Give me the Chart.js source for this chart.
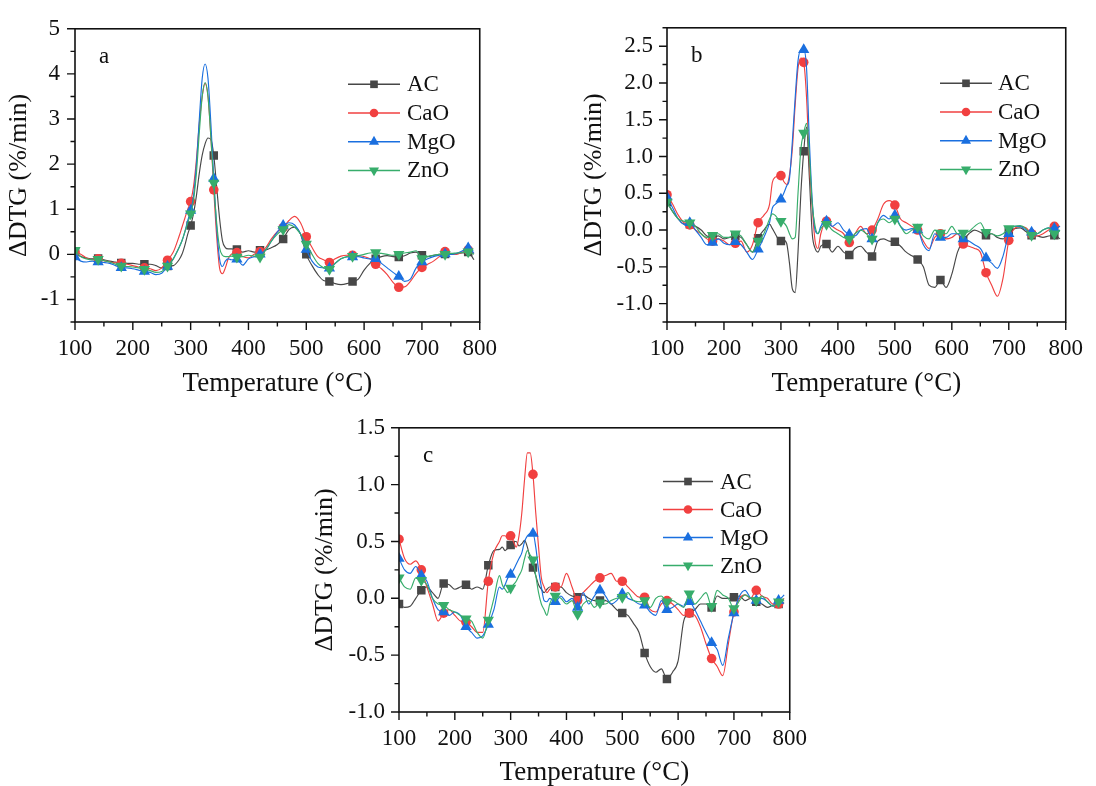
<!DOCTYPE html>
<html>
<head>
<meta charset="utf-8">
<title>ΔDTG – AC, CaO, MgO, ZnO</title>
<script src="https://cdn.jsdelivr.net/npm/chart.js@4.4.1/dist/chart.umd.min.js"></script>
<style>
  html, body { margin: 0; padding: 0; background: #fff; }
  body { width: 1096px; height: 786px; position: relative; overflow: hidden; }
  canvas { position: absolute; }
  #panelA { left: 0; top: 0; }
  #panelB { left: 570px; top: 0; }
  #panelC { left: 290px; top: 400px; }
</style>
</head>
<body>
<canvas id="panelA" width="510" height="400"></canvas>
<canvas id="panelB" width="526" height="400"></canvas>
<canvas id="panelC" width="530" height="396"></canvas>
<script>
'use strict';

// temperature grid (°C), finer around the main decomposition peak
const temps = [
  100,110,120,130,140,150,160,170,180,190,200,210,220,230,240,250,260,270,
  280,285,290,295,300,305,310,315,320,325,330,335,340,345,350,355,360,365,370,
  380,390,400,410,420,430,440,450,460,470,480,490,500,510,520,530,540,550,560,570,
  580,590,600,610,620,630,640,650,660,670,680,690,700,710,720,730,740,750,760,770,780,790
];

const seriesNames = ['AC', 'CaO', 'MgO', 'ZnO'];
const xTicks = [100, 200, 300, 400, 500, 600, 700, 800];
const yTicksA = [-1, 0, 1, 2, 3, 4, 5];
const yTicksB = [-1.0, -0.5, 0.0, 0.5, 1.0, 1.5, 2.0, 2.5];
const yTicksC = [-1.0, -0.5, 0.0, 0.5, 1.0, 1.5];

// panel a
const acA = [
  0.05,-0.05,-0.08,-0.10,-0.09,-0.12,-0.15,-0.17,-0.19,-0.20,-0.20,-0.22,-0.22,-0.22,-0.25,-0.30,-0.26,-0.25,
  -0.12,0.00,0.20,0.45,0.64,0.90,1.30,1.80,2.20,2.45,2.58,2.55,2.19,1.50,0.80,0.30,0.15,0.12,0.12,
  0.11,0.05,0.08,0.05,0.09,0.10,0.15,0.22,0.34,0.55,0.60,0.45,0.00,-0.25,-0.45,-0.58,-0.60,-0.65,-0.67,-0.65,
  -0.60,-0.55,-0.35,-0.20,-0.10,-0.05,-0.03,-0.05,-0.06,-0.03,0.03,0.05,-0.02,-0.05,-0.02,0.00,0.01,0.00,0.02,0.03,0.05,-0.12
];
const caoA = [
  0.05,0.00,-0.08,-0.12,-0.10,-0.14,-0.17,-0.19,-0.20,-0.22,-0.25,-0.28,-0.30,-0.32,-0.36,-0.30,-0.13,0.05,
  0.40,0.60,0.80,1.00,1.17,1.50,2.10,2.90,3.50,3.79,3.50,2.60,1.43,0.40,-0.30,-0.43,-0.30,-0.10,0.00,
  0.04,-0.05,-0.08,0.00,0.06,0.15,0.35,0.50,0.59,0.75,0.84,0.70,0.39,0.15,-0.05,-0.12,-0.18,-0.10,-0.04,-0.02,
  -0.02,-0.03,-0.05,-0.10,-0.22,-0.32,-0.45,-0.62,-0.73,-0.72,-0.60,-0.42,-0.29,-0.22,-0.15,-0.05,0.06,0.02,0.00,0.05,0.10,0.02
];
const mgoA = [
  -0.06,-0.15,-0.17,-0.15,-0.17,-0.18,-0.20,-0.25,-0.30,-0.30,-0.32,-0.35,-0.38,-0.40,-0.45,-0.42,-0.27,-0.10,
  0.15,0.30,0.50,0.75,0.97,1.30,2.00,3.00,3.90,4.22,3.90,2.90,1.68,0.60,-0.10,-0.27,-0.15,-0.10,-0.12,
  -0.11,-0.24,-0.10,-0.05,0.00,0.10,0.30,0.50,0.64,0.70,0.65,0.45,0.11,-0.15,-0.28,-0.30,-0.31,-0.20,-0.10,-0.06,
  -0.06,-0.05,-0.08,-0.10,-0.10,-0.20,-0.30,-0.40,-0.49,-0.60,-0.55,-0.30,-0.17,-0.10,-0.05,-0.02,0.01,0.00,0.02,0.08,0.14,0.02
];
const znoA = [
  0.09,-0.05,-0.10,-0.12,-0.11,-0.14,-0.17,-0.22,-0.26,-0.27,-0.28,-0.30,-0.33,-0.36,-0.40,-0.38,-0.26,-0.10,
  0.15,0.30,0.50,0.70,0.90,1.20,1.80,2.70,3.50,3.81,3.50,2.60,1.58,0.70,0.15,-0.02,-0.05,-0.05,-0.04,
  -0.06,-0.05,-0.02,-0.04,-0.06,0.10,0.30,0.45,0.55,0.66,0.60,0.45,0.23,0.00,-0.20,-0.30,-0.33,-0.20,-0.10,-0.05,
  -0.04,-0.03,0.00,0.03,0.04,0.02,0.00,-0.02,0.00,0.03,0.05,0.08,-0.09,-0.05,-0.02,0.00,0.00,0.02,0.03,0.04,0.06,0.00
];

// panel b
const acB = [
  0.38,0.25,0.15,0.08,0.08,0.05,0.00,-0.08,-0.10,-0.08,-0.12,-0.10,-0.08,-0.10,-0.20,-0.30,-0.11,0.00,
  0.08,0.02,-0.05,-0.12,-0.15,-0.14,-0.18,-0.45,-0.80,-0.85,-0.30,0.50,1.07,1.40,0.70,-0.05,-0.25,-0.30,-0.22,
  -0.19,-0.30,-0.22,-0.30,-0.34,-0.25,-0.22,-0.30,-0.36,-0.15,-0.12,-0.15,-0.16,-0.22,-0.30,-0.35,-0.40,-0.50,-0.75,-0.78,
  -0.68,-0.78,-0.60,-0.30,-0.14,-0.05,0.00,-0.03,-0.07,-0.05,-0.10,-0.12,-0.02,0.02,0.03,-0.02,-0.07,-0.08,-0.10,-0.08,-0.07,-0.12
];
const caoB = [
  0.48,0.35,0.20,0.10,0.07,0.00,-0.05,-0.12,-0.15,-0.12,-0.15,-0.20,-0.18,-0.15,-0.30,-0.20,0.10,0.20,
  0.35,0.65,0.72,0.73,0.74,0.66,0.62,0.75,1.10,1.70,2.20,2.34,2.28,1.80,0.90,0.30,-0.15,-0.25,-0.05,
  0.12,0.05,0.00,-0.05,-0.17,-0.05,0.05,-0.05,0.00,0.15,0.35,0.40,0.34,0.15,0.10,0.05,0.00,-0.15,-0.25,-0.10,
  -0.05,-0.12,-0.10,-0.05,-0.19,-0.22,-0.25,-0.30,-0.58,-0.75,-0.90,-0.65,-0.14,0.02,0.05,0.03,-0.05,-0.08,-0.05,0.00,0.05,0.05
];
const mgoB = [
  0.45,0.30,0.15,0.08,0.10,0.00,-0.10,-0.20,-0.17,-0.12,-0.18,-0.20,-0.16,-0.20,-0.30,-0.40,-0.26,-0.10,
  0.10,0.30,0.35,0.38,0.42,0.50,0.60,0.70,1.20,1.80,2.30,2.45,2.45,2.20,1.20,0.40,0.00,-0.05,0.05,
  0.12,0.05,0.10,0.00,-0.06,-0.08,0.00,0.02,-0.12,0.10,0.20,0.15,0.20,0.05,0.00,0.02,0.00,-0.20,-0.28,-0.05,
  -0.10,-0.10,-0.05,-0.05,-0.12,-0.15,-0.20,-0.25,-0.38,-0.45,-0.52,-0.35,-0.05,0.05,0.05,0.00,-0.03,-0.05,0.00,0.03,0.02,0.05
];
const znoB = [
  0.38,0.25,0.15,0.12,0.10,0.05,-0.05,-0.10,-0.07,-0.05,-0.10,-0.10,-0.05,-0.08,-0.20,-0.30,-0.15,-0.05,
  0.15,0.22,0.20,0.15,0.12,0.10,0.05,-0.05,-0.12,-0.10,0.50,1.10,1.32,1.45,1.00,0.35,0.05,-0.05,0.02,
  0.08,0.00,-0.05,-0.10,-0.12,-0.05,0.00,-0.05,-0.12,0.10,0.15,0.10,0.15,0.05,-0.05,0.00,0.04,-0.08,-0.12,0.00,
  -0.04,-0.05,0.05,-0.05,-0.04,-0.02,0.05,0.10,-0.03,-0.05,-0.08,-0.05,0.02,0.05,0.06,0.02,-0.07,-0.05,0.00,0.03,-0.05,0.00
];

// panel c
const acC = [
  -0.05,-0.08,-0.07,0.00,0.07,0.10,0.05,0.00,0.13,0.12,0.08,0.10,0.12,0.08,0.10,0.08,0.29,0.42,
  0.43,0.45,0.42,0.44,0.47,0.50,0.50,0.46,0.48,0.51,0.45,0.35,0.27,0.20,0.12,0.08,0.05,0.08,0.10,
  0.10,0.10,0.05,0.02,0.01,0.03,0.00,-0.02,-0.02,-0.02,-0.05,-0.10,-0.13,-0.15,-0.22,-0.30,-0.48,-0.60,-0.65,-0.62,
  -0.71,-0.65,-0.55,-0.20,-0.13,-0.10,-0.05,-0.05,-0.08,0.02,0.00,0.00,0.01,0.02,-0.02,0.00,-0.03,-0.05,-0.08,-0.06,-0.05,-0.04
];
const caoC = [
  0.52,0.35,0.30,0.33,0.25,0.10,-0.05,-0.20,-0.13,-0.10,-0.15,-0.20,-0.21,-0.25,-0.30,-0.30,0.15,0.40,
  0.50,0.55,0.55,0.52,0.55,0.50,0.45,0.55,0.75,1.05,1.28,1.28,1.09,0.75,0.45,0.18,0.10,0.05,0.08,
  0.10,0.10,0.22,0.10,-0.02,0.05,0.10,0.15,0.18,0.20,0.22,0.15,0.15,0.10,0.05,0.01,0.01,-0.10,-0.12,-0.05,
  -0.02,-0.05,-0.10,-0.15,-0.13,-0.15,-0.25,-0.40,-0.53,-0.60,-0.68,-0.40,-0.12,0.00,0.03,0.00,0.07,0.02,0.00,-0.05,-0.05,0.00
];
const mgoC = [
  0.35,0.25,0.22,0.28,0.20,0.15,0.00,-0.10,-0.12,-0.15,-0.12,-0.15,-0.25,-0.30,-0.35,-0.33,-0.23,-0.10,
  0.10,0.08,0.12,0.18,0.21,0.25,0.30,0.35,0.40,0.50,0.55,0.57,0.57,0.45,0.25,0.10,-0.02,-0.03,0.00,
  -0.03,0.02,-0.03,0.00,-0.08,0.05,-0.05,0.02,0.07,0.02,-0.05,-0.02,0.04,0.00,-0.02,-0.05,-0.06,-0.12,-0.15,-0.02,
  -0.10,-0.08,-0.05,-0.07,-0.03,-0.10,-0.20,-0.30,-0.39,-0.45,-0.59,-0.35,-0.13,0.02,0.07,0.00,-0.02,0.00,-0.03,-0.07,-0.02,0.03
];
const znoC = [
  0.18,0.10,0.08,0.18,0.16,0.12,0.00,-0.05,-0.06,-0.10,-0.12,-0.15,-0.18,-0.20,-0.30,-0.35,-0.19,0.00,
  0.20,0.12,0.08,0.05,0.09,0.12,0.15,0.20,0.25,0.35,0.42,0.38,0.34,0.20,0.05,-0.05,-0.10,-0.15,-0.05,
  0.02,0.00,-0.05,-0.02,-0.14,-0.05,-0.02,-0.08,-0.04,-0.05,-0.02,0.00,0.01,0.05,-0.02,-0.03,-0.02,-0.08,0.00,0.02,
  -0.03,-0.02,-0.05,-0.08,0.04,-0.05,0.00,0.05,-0.07,0.07,0.03,0.00,-0.09,-0.02,0.03,0.00,-0.02,0.02,-0.03,-0.07,-0.03,-0.02
];

const FONT = '"Liberation Serif", "Times New Roman", serif';

// line / symbol style per sample (Origin-like palette)
const styles = [
  { color: '#474747', point: 'rect', radius: 6, rotation: 0 },
  { color: '#f14040', point: 'circle', radius: 4.8, rotation: 0 },
  { color: '#1a6fdf', point: 'triangle', radius: 6.5, rotation: 0 },
  { color: '#37ad6b', point: 'triangle', radius: 6.5, rotation: 180 }
];

// symbols every 40 °C starting at 100 °C
const hasSymbol = t => (t - 100) % 40 === 0;

function midpoints(major, min, max) {
  const step = major[1] - major[0];
  const out = [];
  for (let i = -1; i < major.length; i++) {
    const v = (i < 0 ? major[0] - step : major[i]) + step / 2;
    if (v >= min - 1e-9 && v <= max + 1e-9) out.push(v);
  }
  return out;
}

// box frame, outward tick marks, panel letter and in-plot legend
const framePlugin = {
  id: 'frame',
  afterDraw(chart, args, opts) {
    const { ctx, chartArea: a, scales: { x, y } } = chart;
    ctx.save();
    ctx.strokeStyle = '#111';
    ctx.lineWidth = 1.6;
    ctx.strokeRect(a.left, a.top, a.right - a.left, a.bottom - a.top);

    ctx.lineWidth = 1.4;
    ctx.beginPath();
    xTicks.forEach(v => { const p = x.getPixelForValue(v); ctx.moveTo(p, a.bottom); ctx.lineTo(p, a.bottom + 8); });
    midpoints(xTicks, x.min, x.max).forEach(v => { const p = x.getPixelForValue(v); ctx.moveTo(p, a.bottom); ctx.lineTo(p, a.bottom + 4.5); });
    opts.yTicks.forEach(v => { const p = y.getPixelForValue(v); ctx.moveTo(a.left, p); ctx.lineTo(a.left - 8, p); });
    midpoints(opts.yTicks, y.min, y.max).forEach(v => { const p = y.getPixelForValue(v); ctx.moveTo(a.left, p); ctx.lineTo(a.left - 4.5, p); });
    ctx.stroke();

    ctx.fillStyle = '#111';
    ctx.font = '23px ' + FONT;
    ctx.textBaseline = 'alphabetic';
    ctx.textAlign = 'left';
    ctx.fillText(opts.letter, a.left + 24, a.top + 34);

    const lg = opts.legend;
    chart.data.datasets.forEach((ds, i) => {
      const cy = a.top + lg.top + i * lg.gap;
      const x0 = a.left + lg.left;
      ctx.strokeStyle = ds.borderColor;
      ctx.lineWidth = 1.5;
      ctx.beginPath();
      ctx.moveTo(x0, cy);
      ctx.lineTo(x0 + lg.line, cy);
      ctx.stroke();
      ctx.fillStyle = ds.borderColor;
      Chart.helpers.drawPoint(ctx, {
        pointStyle: ds.pointStyle, rotation: ds.pointRotation,
        radius: styles[i].radius * 0.9, borderWidth: 0
      }, x0 + lg.line / 2, cy);
      ctx.fillStyle = '#111';
      ctx.font = '23px ' + FONT;
      ctx.textBaseline = 'middle';
      ctx.fillText(ds.label, x0 + lg.line + lg.text, cy + 1);
    });
    ctx.restore();
  }
};

function makePanel(id, values, p) {
  const datasets = values.map((vals, i) => {
    const s = styles[i];
    return {
      label: seriesNames[i],
      data: temps.map((t, k) => ({ x: t, y: vals[k] })),
      borderColor: s.color,
      backgroundColor: s.color,
      borderWidth: 1.15,
      cubicInterpolationMode: 'monotone',
      pointStyle: s.point,
      pointRotation: s.rotation,
      pointRadius: c => hasSymbol(temps[c.dataIndex]) ? s.radius : 0,
      pointHoverRadius: 0,
      pointBorderWidth: 0,
      pointBackgroundColor: s.color,
      order: values.length - i
    };
  });

  return new Chart(document.getElementById(id), {
    type: 'line',
    data: { datasets },
    plugins: [framePlugin],
    options: {
      responsive: false,
      animation: false,
      devicePixelRatio: 1,
      layout: { padding: { top: p.padTop, right: p.padRight, left: 0, bottom: 0 } },
      plugins: {
        legend: { display: false },
        tooltip: { enabled: false },
        frame: { yTicks: p.yTicks, letter: p.letter, legend: p.legend }
      },
      scales: {
        x: {
          type: 'linear', min: 100, max: 800,
          afterBuildTicks: ax => { ax.ticks = xTicks.map(v => ({ value: v })); },
          afterFit: ax => { ax.height = p.xHeight; },
          grid: { display: false, drawTicks: false },
          border: { display: false },
          ticks: { padding: 13, color: '#111', font: { family: FONT, size: 23 }, maxRotation: 0 },
          title: { display: true, text: 'Temperature (°C)', color: '#111', font: { family: FONT, size: 27 }, padding: { top: 0, bottom: p.xTitlePad } }
        },
        y: {
          type: 'linear', min: p.yMin, max: p.yMax,
          afterBuildTicks: ax => { ax.ticks = p.yTicks.map(v => ({ value: v })); },
          afterFit: ax => { ax.width = p.yWidth; },
          grid: { display: false, drawTicks: false },
          border: { display: false },
          ticks: {
            padding: p.yTickPad, color: '#111', font: { family: FONT, size: 23 },
            callback: v => p.decimals ? Number(v).toFixed(p.decimals) : String(v)
          },
          title: { display: true, text: 'ΔDTG (%/min)', color: '#111', font: { family: FONT, size: 26 }, padding: { top: p.yTitlePad, bottom: 0 } }
        }
      }
    }
  });
}

makePanel('panelA', [acA, caoA, mgoA, znoA], {
  letter: 'a', yMin: -1.5, yMax: 5, yTicks: yTicksA, decimals: 0,
  padTop: 21, padRight: 25, yWidth: 75, xHeight: 78,
  yTickPad: 15, yTitlePad: 4, xTitlePad: 0,
  legend: { left: 273, top: 55.5, gap: 28.7, line: 52, text: 7 }
});

makePanel('panelB', [acB, caoB, mgoB, znoB], {
  letter: 'b', yMin: -1.25, yMax: 2.75, yTicks: yTicksB, decimals: 1,
  padTop: 21, padRight: 19, yWidth: 97, xHeight: 78,
  yTickPad: 14, yTitlePad: 9, xTitlePad: 0,
  legend: { left: 273, top: 55.5, gap: 28.7, line: 52, text: 6 }
});

makePanel('panelC', [acC, caoC, mgoC, znoC], {
  letter: 'c', yMin: -1.0, yMax: 1.5, yTicks: yTicksC, decimals: 1,
  padTop: 19, padRight: 24, yWidth: 109, xHeight: 84,
  yTickPad: 14, yTitlePad: 20, xTitlePad: 7,
  legend: { left: 264, top: 53.7, gap: 28, line: 50, text: 7 }
});
</script>
</body>
</html>
